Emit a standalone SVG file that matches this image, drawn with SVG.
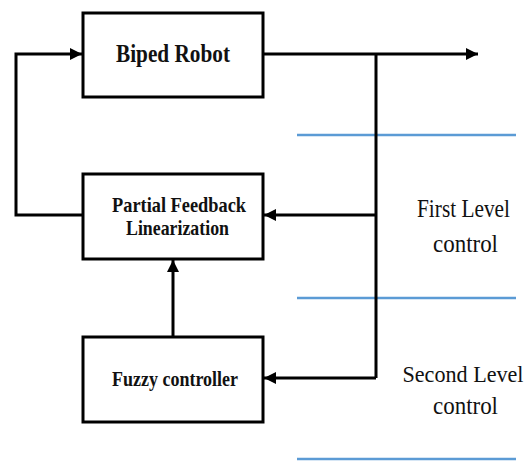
<svg xmlns="http://www.w3.org/2000/svg" width="532" height="461" viewBox="0 0 532 461">
<style>
.box{fill:#fff;stroke:#000;stroke-width:3}
.wire{fill:none;stroke:#000;stroke-width:3}
.lvl{stroke:#5b9bd5;stroke-width:2.5}
.bt{font-family:'Liberation Serif','Times New Roman','DejaVu Serif',serif;font-weight:bold;fill:#111;text-anchor:middle}
.rt{font-family:'Liberation Serif','Times New Roman','DejaVu Serif',serif;fill:#111;text-anchor:middle}
</style>
<defs>
<marker id="ah" viewBox="0 0 12 12" refX="12" refY="6" markerWidth="12" markerHeight="12" markerUnits="userSpaceOnUse" orient="auto">
<path d="M0,0 L12,6 L0,12 z" fill="#000"/>
</marker>
</defs>
<g id="levels">
<line class="lvl" x1="297" y1="135" x2="516" y2="135"/>
<line class="lvl" x1="297" y1="298" x2="516" y2="298"/>
<line class="lvl" x1="297" y1="459" x2="516" y2="459"/>
</g>
<g id="connectors">
<path class="wire" d="M263,54 H478" marker-end="url(#ah)"/>
<path class="wire" d="M376,54 V378"/>
<path class="wire" d="M376,215 H264" marker-end="url(#ah)"/>
<path class="wire" d="M376,378 H264" marker-end="url(#ah)"/>
<path class="wire" d="M173,337 V260" marker-end="url(#ah)"/>
<path class="wire" d="M83,215 H16 V54 H82" marker-end="url(#ah)"/>
</g>
<g id="biped">
<rect class="box" x="83" y="13" width="180" height="84"/>
<text class="bt" x="173" y="62" font-size="25" textLength="114" lengthAdjust="spacingAndGlyphs">Biped Robot</text>
</g>
<g id="pfl">
<rect class="box" x="83" y="174" width="180" height="85"/>
<text class="bt" x="179" y="212" font-size="21" textLength="134" lengthAdjust="spacingAndGlyphs">Partial Feedback</text>
<text class="bt" x="177.5" y="235" font-size="21" textLength="103" lengthAdjust="spacingAndGlyphs">Linearization</text>
</g>
<g id="fuzzy">
<rect class="box" x="83" y="337" width="180" height="85"/>
<text class="bt" x="175" y="386" font-size="20" textLength="126" lengthAdjust="spacingAndGlyphs">Fuzzy controller</text>
</g>
<g id="labels">
<text class="rt" x="463.5" y="217" font-size="25" textLength="93" lengthAdjust="spacingAndGlyphs">First Level</text>
<text class="rt" x="465.5" y="252" font-size="25" textLength="65" lengthAdjust="spacingAndGlyphs">control</text>
<text class="rt" x="463" y="382" font-size="22.5" textLength="121" lengthAdjust="spacingAndGlyphs">Second Level</text>
<text class="rt" x="465.5" y="414" font-size="25" textLength="65" lengthAdjust="spacingAndGlyphs">control</text>
</g>
</svg>
